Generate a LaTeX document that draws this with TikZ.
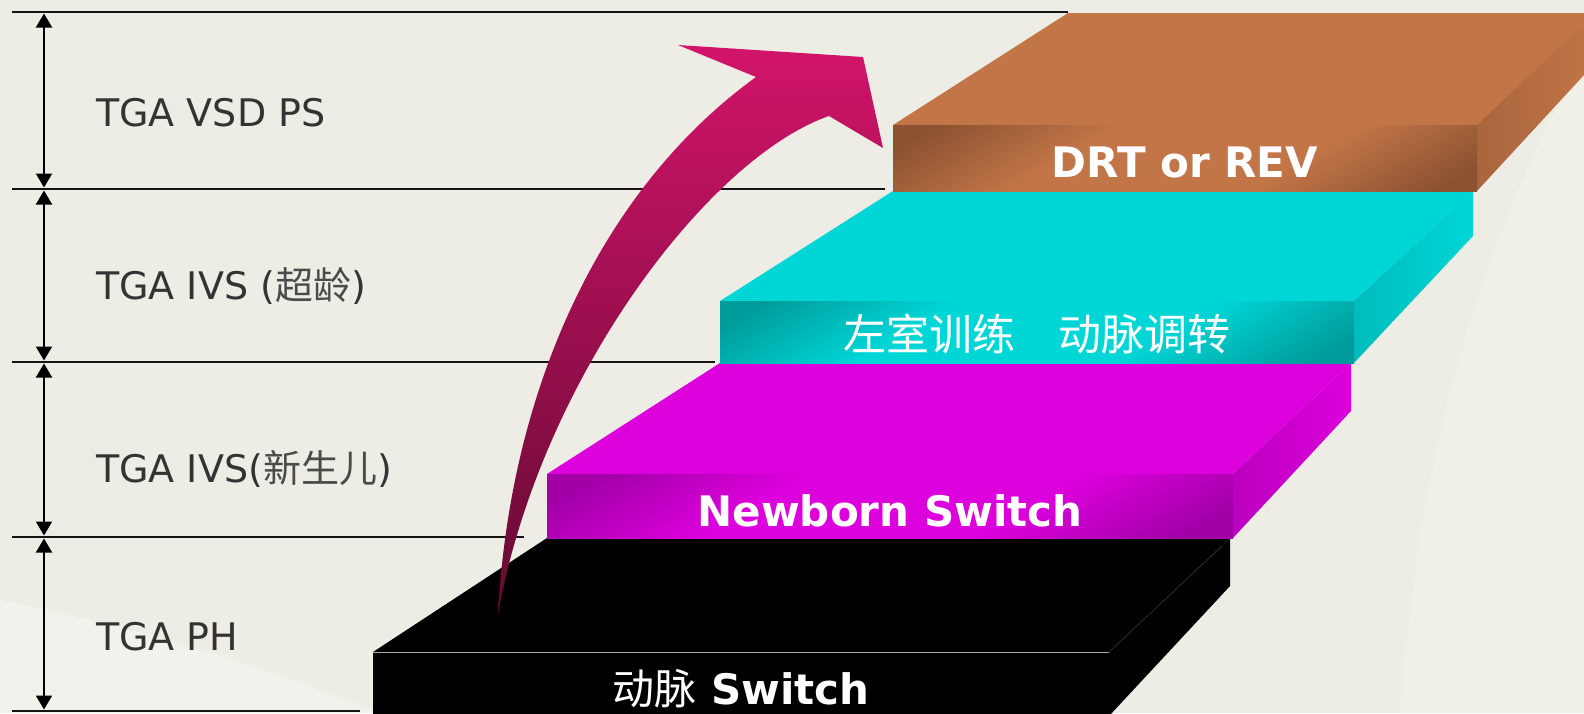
\documentclass[tikz,border=0pt]{standalone}
\usepackage{fontspec}
\usetikzlibrary{arrows.meta}
\newfontfamily\dv{DejaVu Sans}
\newfontfamily\cjk{Noto Sans CJK SC}
\definecolor{bg}{RGB}{237,237,230}
\definecolor{bglight}{RGB}{242,242,236}
\definecolor{txt}{RGB}{51,51,51}
\definecolor{txtcjk}{RGB}{75,75,75}
\definecolor{brtop}{RGB}{194,117,71}
\definecolor{brdark}{RGB}{140,82,49}
\definecolor{cytop}{RGB}{0,214,214}
\definecolor{cydark}{RGB}{0,156,156}
\definecolor{mgtop}{RGB}{220,0,220}
\definecolor{mgdark}{RGB}{160,0,166}
\definecolor{arrtop}{RGB}{210,20,106}
\definecolor{arrmid}{RGB}{192,20,97}
\definecolor{arrbot}{RGB}{100,10,50}
\pgfdeclareverticalshading{brfront}{100bp}{color(0bp)=(brdark); color(20bp)=(brdark); color(38bp)=(brtop); color(62bp)=(brtop); color(80bp)=(brdark); color(100bp)=(brdark)}
\pgfdeclareverticalshading{cyfront}{100bp}{color(0bp)=(cydark); color(20bp)=(cydark); color(38bp)=(cytop); color(62bp)=(cytop); color(80bp)=(cydark); color(100bp)=(cydark)}
\pgfdeclareverticalshading{mgfront}{100bp}{color(0bp)=(mgdark); color(20bp)=(mgdark); color(38bp)=(mgtop); color(62bp)=(mgtop); color(80bp)=(mgdark); color(100bp)=(mgdark)}
\begin{document}
\begin{tikzpicture}[x=1pt,y=-1pt,
  hline/.style={line width=2.5pt, draw=black!92},
  span/.style={line width=2pt, draw=black, {Triangle[width=16pt,length=14pt]}-{Triangle[width=16pt,length=14pt]}},
  lab/.style={anchor=base west, inner sep=0pt, text=txt, font=\dv\fontsize{38}{44}\selectfont},
  ftxt/.style={anchor=base, inner sep=0pt, text=white, font=\dv\bfseries\fontsize{42}{48}\selectfont},
  ctxt/.style={anchor=base, inner sep=0pt, text=white, font=\cjk\fontsize{43}{48}\selectfont},
]
\newcommand{\labcjkfont}{\cjk\fontsize{38}{42}\selectfont\color{txtcjk}}
\useasboundingbox (0,0) rectangle (1584,713);
\clip (0,0) rectangle (1584,713);
\fill[bg] (0,0) rectangle (1584,713);
% faint background texture
\fill[bglight] (0,600) .. controls (200,640) and (320,690) .. (380,713) -- (0,713) -- cycle;
\fill[bglight, opacity=0.6] (1584,60) .. controls (1500,200) and (1420,420) .. (1400,713) -- (1584,713) -- cycle;

% horizontal level lines
\coordinate (l1a) at (12,12);   \coordinate (l1b) at (1068,12);
\coordinate (l2a) at (12,189);  \coordinate (l2b) at (885,189);
\coordinate (l3a) at (12,362);  \coordinate (l3b) at (715,362);
\coordinate (l4a) at (12,537);  \coordinate (l4b) at (524,537);
\coordinate (l5a) at (12,711);  \coordinate (l5b) at (360,711);
\foreach \i in {1,...,5} \draw[hline] (l\i a) -- (l\i b);

% vertical span arrows
\coordinate (v1t) at (44,13.5);  \coordinate (v1b) at (44,187.5);
\coordinate (v2t) at (44,190.5); \coordinate (v2b) at (44,360.5);
\coordinate (v3t) at (44,363.5); \coordinate (v3b) at (44,535.5);
\coordinate (v4t) at (44,538.5); \coordinate (v4b) at (44,709.5);
\foreach \i in {1,...,4} \draw[span] (v\i t) -- (v\i b);

% labels
\node[lab] (lab1) at (96,126) {TGA VSD PS};
\node[lab] (lab2) at (96,299) {TGA IVS ({\labcjkfont 超龄})};
\node[lab] (lab3) at (96,482) {TGA IVS({\labcjkfont 新生儿})};
\node[lab] (lab4) at (96,650) {TGA PH};

% black slab
\fill[black] (373,652) -- (547,538) -- (1230,538) -- (1109,652) -- cycle;
\fill[black] (1109,652) -- (1230,538) -- (1230,586) -- (1109,716) -- cycle;
\fill[black] (373,652) rectangle (1109,716);
\draw[gray!70, line width=1pt] (373,652.5) -- (1109,652.5);
\draw[gray!40!black, line width=0.6pt] (1109,652) -- (1222,546);

% magenta slab
\fill[mgtop] (547,474) -- (720,363) -- (1351,363) -- (1233,474) -- cycle;
\shade[left color=mgdark!55!mgtop, right color=mgtop] (1233,474) -- (1351,363) -- (1351,411) -- (1233,538) -- cycle;
\path[shading=mgfront, shading angle=30] (547,474) rectangle (1233,538);

% cyan slab
\fill[cytop] (720,301) -- (893,191) -- (1473,191) -- (1354,301) -- cycle;
\shade[left color=cydark!45!cytop, right color=cytop] (1354,301) -- (1473,191) -- (1473,236) -- (1354,363) -- cycle;
\path[shading=cyfront, shading angle=30] (720,301) rectangle (1354,363);

% brown slab
\fill[brtop] (893,125) -- (1068,13) -- (1600,13) -- (1477,125) -- cycle;
\shade[left color=brdark!45!brtop, right color=brtop] (1477,125) -- (1596,13) -- (1596,62) -- (1477,191) -- cycle;
\path[shading=brfront, shading angle=30] (893,125) rectangle (1477,191);

% slab texts
\node[ftxt] (t1) at (1185,177) {DRT or REV};
\node[ctxt] (t2) at (1037,350) {左室训练　动脉调转};
\node[ftxt] (t3) at (890,526) {Newborn Switch};
\node[ftxt] (t4) at (741,704) {{\cjk\mdseries 动脉} Switch};

% curved arrow
\coordinate (tail) at (498,614);
\coordinate (nA) at (756,77);
\coordinate (b1) at (678,45);
\coordinate (tip) at (863,57);
\coordinate (b2) at (883,148);
\coordinate (nB) at (829,116);
\shade[top color=arrtop, middle color=arrmid, bottom color=arrbot]
  (tail) .. controls (510,390) and (600,190) .. (nA) -- (b1) -- (tip) -- (b2) -- (nB)
  .. controls (708,158) and (540,380) .. (tail) -- cycle;
\end{tikzpicture}
\end{document}
